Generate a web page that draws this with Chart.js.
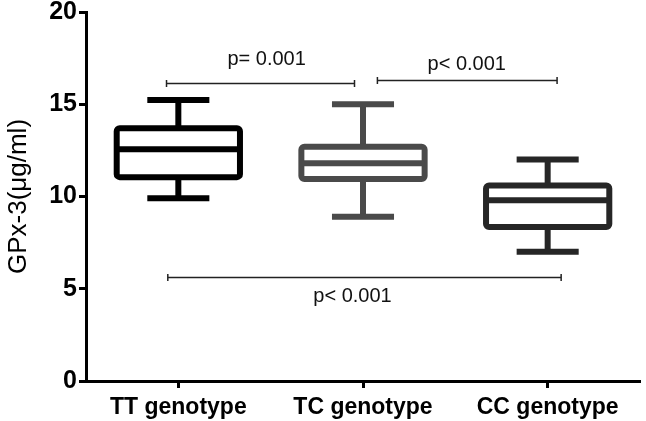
<!DOCTYPE html>
<html>
<head>
<meta charset="utf-8">
<script src="https://cdn.jsdelivr.net/npm/chart.js@4"></script>
<style>
html,body{margin:0;padding:0;background:#fff;}
#wrap{width:646px;height:421px;}
</style>
</head>
<body>
<div id="wrap"><canvas id="c" width="646" height="421"></canvas></div>
<script>
// ---- data ----
const categories = ['TT genotype', 'TC genotype', 'CC genotype'];
const whiskerMin = [9.9, 8.9, 7.0];
const q1 = [11.05, 10.95, 8.35];
const median = [12.56, 11.8, 9.8];
const q3 = [13.7, 12.7, 10.6];
const whiskerMax = [15.23, 15.0, 12.0];
const yTickValues = [0, 5, 10, 15, 20];
const yAxisTitle = 'GPx-3(\u03bcg/ml)';

// significance annotations (category index units, y in data units)
const bracketLabels = ['p= 0.001', 'p< 0.001', 'p< 0.001'];
const bracketStart = [-0.064, 1.078, -0.057];
const bracketEnd = [0.954, 2.051, 2.073];
const bracketLevel = [16.17, 16.31, 5.64];
const labelPosX = [0.478, 1.562, 0.943];
const labelPosY = [17.4, 17.13, 4.6];

const boxColors = ['#000000', '#4a4a4a', '#262626'];

const boxPlugin = {
  id: 'boxExtras',
  afterDatasetsDraw(chart) {
    const ctx = chart.ctx;
    const x = chart.scales.x, y = chart.scales.y;
    const meta = chart.getDatasetMeta(0);
    const lw = 6;
    ctx.save();
    meta.data.forEach((bar, i) => {
      const cx = bar.x;
      const w = bar.width;
      const cap = w * 0.48;
      const yTop = y.getPixelForValue(q3[i]);
      const yBot = y.getPixelForValue(q1[i]);
      const yMax = y.getPixelForValue(whiskerMax[i]);
      const yMin = y.getPixelForValue(whiskerMin[i]);
      const yMed = y.getPixelForValue(median[i]);
      ctx.strokeStyle = boxColors[i];
      ctx.lineCap = 'butt';
      ctx.lineWidth = lw;
      // whisker stems
      ctx.beginPath();
      ctx.moveTo(cx, yTop);
      ctx.lineTo(cx, yMax);
      ctx.moveTo(cx, yBot);
      ctx.lineTo(cx, yMin);
      ctx.stroke();
      // caps
      ctx.beginPath();
      ctx.moveTo(cx - cap / 2, yMax);
      ctx.lineTo(cx + cap / 2, yMax);
      ctx.moveTo(cx - cap / 2, yMin);
      ctx.lineTo(cx + cap / 2, yMin);
      ctx.stroke();
      // box
      const bx = cx - w / 2 + lw / 2;
      const bw = w - lw;
      ctx.beginPath();
      ctx.roundRect(bx, yTop, bw, yBot - yTop, 3);
      ctx.stroke();
      // median
      ctx.beginPath();
      ctx.moveTo(bx, yMed);
      ctx.lineTo(bx + bw, yMed);
      ctx.stroke();
    });
    // brackets
    const step = x.getPixelForValue(1) - x.getPixelForValue(0);
    const px = v => x.getPixelForValue(0) + v * step;
    ctx.strokeStyle = '#222';
    ctx.fillStyle = '#111';
    ctx.lineWidth = 1.5;
    ctx.font = '20px "Liberation Sans", Arial, sans-serif';
    ctx.textAlign = 'center';
    ctx.textBaseline = 'middle';
    bracketLabels.forEach((lab, i) => {
      const yy = Math.round(y.getPixelForValue(bracketLevel[i])) + 0.5;
      const x0 = px(bracketStart[i]), x1 = px(bracketEnd[i]);
      ctx.beginPath();
      ctx.moveTo(x0, yy); ctx.lineTo(x1, yy);
      ctx.moveTo(x0, yy - 3.5); ctx.lineTo(x0, yy + 3.5);
      ctx.moveTo(x1, yy - 3.5); ctx.lineTo(x1, yy + 3.5);
      ctx.stroke();
      ctx.fillText(lab, px(labelPosX[i]), y.getPixelForValue(labelPosY[i]));
    });
    ctx.restore();
  }
};

new Chart(document.getElementById('c'), {
  type: 'bar',
  data: {
    labels: categories,
    datasets: [{
      data: categories.map((_, i) => [q1[i], q3[i]]),
      backgroundColor: 'rgba(0,0,0,0)',
      borderColor: 'rgba(0,0,0,0)',
      borderWidth: 0,
      categoryPercentage: 1,
      barPercentage: 0.70
    }]
  },
  options: {
    responsive: false,
    animation: false,
    devicePixelRatio: 1,
    layout: { padding: { top: 12, right: 6, left: 0, bottom: 0 } },
    plugins: { legend: { display: false }, tooltip: { enabled: false } },
    scales: {
      x: {
        grid: { display: true, drawOnChartArea: false, drawTicks: true, tickLength: 7, tickWidth: 3, color: '#000', offset: false },
        border: { display: true, width: 3, color: '#000' },
        ticks: { color: '#000', font: { family: '"Liberation Sans", Arial, sans-serif', size: 23, weight: 'bold' }, padding: 6, maxRotation: 0 },
        afterFit(s) { s.height = 40; s.paddingLeft = 0; s.paddingRight = 0; }
      },
      y: {
        min: 0, max: 20,
        afterBuildTicks(s) { s.ticks = yTickValues.map(v => ({ value: v })); },
        grid: { display: true, drawOnChartArea: false, drawTicks: true, tickLength: 7, tickWidth: 3, color: '#000' },
        border: { display: true, width: 3, color: '#000' },
        ticks: { color: '#000', font: { family: '"Liberation Sans", Arial, sans-serif', size: 25, weight: 'bold' }, padding: 2 },
        title: { display: true, text: yAxisTitle, color: '#000', font: { family: '"Liberation Sans", Arial, sans-serif', size: 26 }, padding: { top: 3, bottom: 0 } },
        afterFit(s) { s.width = 86; s.paddingTop = 0; s.paddingBottom = 0; }
      }
    }
  },
  plugins: [boxPlugin]
});
</script>
</body>
</html>
